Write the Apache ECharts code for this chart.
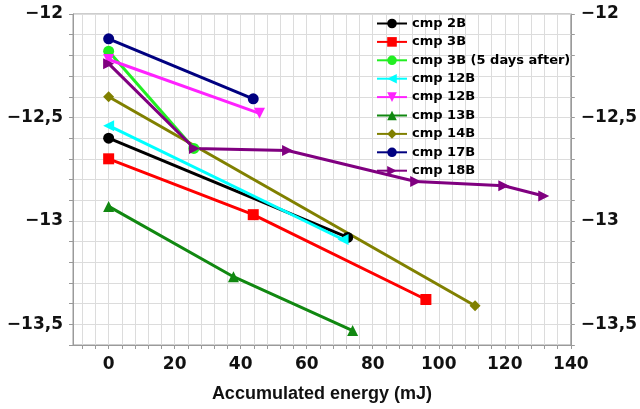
<!DOCTYPE html>
<html><head><meta charset="utf-8">
<script src="https://cdn.jsdelivr.net/npm/echarts@6/dist/echarts.min.js"></script>
<style>html,body{margin:0;padding:0;background:#fff}#c{width:640px;height:409px}</style>
</head><body><div id="c"></div>
<script>
const seriesNames = ['cmp 2B', 'cmp 3B', 'cmp 3B (5 days after)', 'cmp 12B', 'cmp 12B\u200B', 'cmp 13B', 'cmp 14B', 'cmp 17B', 'cmp 18B'];
const x2B = [0, 72.4];            const y2B = [-12.60, -13.08];
const x3B = [0, 43.8, 96.1];      const y3B = [-12.70, -12.97, -13.38];
const x3B5 = [0, 25.8];           const y3B5 = [-12.18, -12.65];
const x12Ba = [0, 71.0];          const y12Ba = [-12.54, -13.09];
const x12Bb = [0, 45.7];          const y12Bb = [-12.22, -12.48];
const x13B = [0, 37.8, 73.9];     const y13B = [-12.93, -13.27, -13.53];
const x14B = [0, 111.0];          const y14B = [-12.40, -13.41];
const x17B = [0, 43.8];           const y17B = [-12.12, -12.41];
const x18B = [0, 26.0, 54.2, 93.0, 119.7, 131.8];
const y18B = [-12.24, -12.65, -12.66, -12.81, -12.83, -12.88];
const xLabelValues = [0, 20, 40, 60, 80, 100, 120, 140];
const xTickValues = [-8, -4, 0, 4, 8, 12, 16, 20, 24, 28, 32, 36, 40, 44, 48, 52, 56, 60, 64, 68, 72, 76, 80, 84, 88, 92, 96, 100, 104, 108, 112, 116, 120, 124, 128, 132, 136, 140];

const xs = [x2B, x3B, x3B5, x12Ba, x12Bb, x13B, x14B, x17B, x18B];
const ys = [y2B, y3B, y3B5, y12Ba, y12Bb, y13B, y14B, y17B, y18B];
const colors = ['#000000', '#ff0000', '#22ee22', '#00ffff', '#ff22ff', '#118811', '#808000', '#000080', '#800080'];
const symbols = ['circle', 'rect', 'circle', 'triangle', 'triangle', 'triangle', 'diamond', 'circle', 'triangle'];
const rotates = [0, 0, 0, 90, 180, 0, 0, 0, -90];

const axisFont = {fontFamily: 'DejaVu Sans', fontWeight: 'bold', fontSize: 17, color: '#111'};
function yFmt(v) {
  if (Math.abs(v * 2 - Math.round(v * 2)) > 1e-6) return '';
  return (Math.round(v * 10) / 10).toString().replace('.', ',').replace('-', '\u2212');
}
const gridLine = {show: true, lineStyle: {color: '#dcdcdc', width: 1}};

const chart = echarts.init(document.getElementById('c'), null, {renderer: 'canvas'});
chart.setOption({
  animation: false,
  backgroundColor: '#fff',
  grid: {left: 73, right: 68, top: 14, bottom: 64, show: true, borderColor: '#9a9a9a', borderWidth: 1},
  legend: {
    orient: 'vertical', left: 376, top: 17, padding: 0,
    itemWidth: 30, itemHeight: 12, itemGap: 5.4,
    textStyle: {fontFamily: 'DejaVu Sans', fontWeight: 'bold', fontSize: 13, color: '#000', padding: [0, 0, 0, 0]},
    data: seriesNames
  },
  xAxis: {
    type: 'value', min: -10.8, max: 140,
    name: 'Accumulated energy (mJ)', nameLocation: 'middle', nameGap: 40,
    nameTextStyle: {fontFamily: 'Liberation Sans', fontWeight: 'bold', fontSize: 18, color: '#111'},
    axisLine: {show: true, onZero: false, lineStyle: {color: '#9a9a9a'}},
    axisTick: {show: true, customValues: xTickValues, length: 4, lineStyle: {color: '#9a9a9a'}},
    axisLabel: Object.assign({customValues: xLabelValues, margin: 11}, axisFont),
    splitLine: gridLine
  },
  yAxis: [{
    type: 'value', min: -13.6, max: -12, interval: 0.1,
    axisLine: {show: true, onZero: false, lineStyle: {color: '#9a9a9a'}},
    axisTick: {show: true, length: 4, lineStyle: {color: '#9a9a9a'}},
    axisLabel: Object.assign({formatter: yFmt, margin: 10, showMinLabel: true, showMaxLabel: true}, axisFont),
    splitLine: gridLine
  }, {
    type: 'value', min: -13.6, max: -12, interval: 0.1, position: 'right',
    axisLine: {show: true, onZero: false, lineStyle: {color: '#9a9a9a'}},
    axisTick: {show: true, length: 4, lineStyle: {color: '#9a9a9a'}},
    axisLabel: Object.assign({formatter: yFmt, margin: 10, showMinLabel: true, showMaxLabel: true}, axisFont),
    splitLine: {show: false}
  }],
  series: seriesNames.map((n, i) => ({
    name: n, type: 'line', yAxisIndex: 0,
    data: xs[i].map((x, j) => [x, ys[i][j]]),
    symbol: symbols[i], symbolRotate: rotates[i], symbolSize: 11,
    showAllSymbol: true,
    color: colors[i],
    lineStyle: {width: 3, color: colors[i]},
    itemStyle: {color: colors[i]}
  }))
});
</script>
</body></html>
